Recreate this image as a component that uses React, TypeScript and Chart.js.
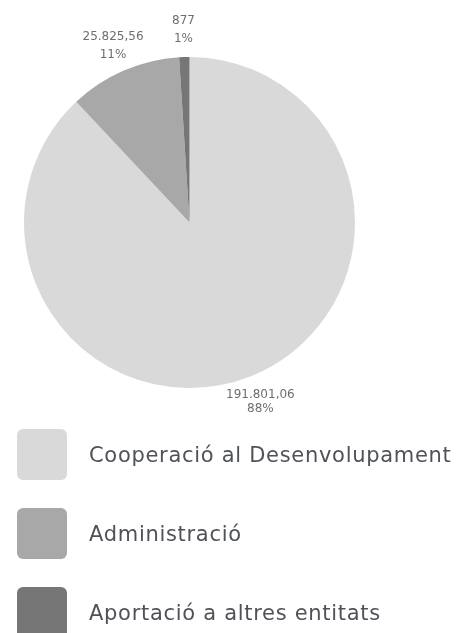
import React, { useEffect, useRef } from "react";
import { Chart, registerables } from "chart.js";

Chart.register(...registerables);

const categories = ["Cooperació al Desenvolupament", "Administració", "Aportació a altres entitats"];
const percentValues = [88, 11, 1];
const amountLabels = ["191.801,06", "25.825,56", "877"];
const percentLabels = ["88%", "11%", "1%"];
const sliceColors = ["#d9d9d9", "#a8a8a8", "#767676"];

const sliceLabelsPlugin = {
  id: "sliceLabels",
  afterDatasetsDraw(chart: any) {
    const ctx = chart.ctx;
    const meta = chart.getDatasetMeta(0);
    ctx.save();
    ctx.font = "12px 'DejaVu Sans'";
    ctx.fillStyle = "#6e6e6e";
    ctx.textAlign = "center";
    ctx.textBaseline = "middle";
    meta.data.forEach((arc: any, i: number) => {
      const { x, y, startAngle, endAngle, outerRadius } = arc.getProps(
        ["x", "y", "startAngle", "endAngle", "outerRadius"],
        true
      );
      const mid = (startAngle + endAngle) / 2;
      const r = outerRadius + 27;
      const cx = x + Math.cos(mid) * r;
      const cy = y + Math.sin(mid) * r;
      const half = Math.sin(mid) < 0 ? 9 : 7;
      ctx.fillText(amountLabels[i], cx, cy - half);
      ctx.fillText(percentLabels[i], cx, cy + half);
    });
    ctx.restore();
  },
};

const boxLegendPlugin = {
  id: "boxLegend",
  afterDraw(chart: any) {
    const ctx = chart.ctx;
    const labels = chart.data.labels as string[];
    const colors = chart.data.datasets[0].backgroundColor as string[];
    ctx.save();
    labels.forEach((label, i) => {
      const top = 429 + i * 79;
      ctx.fillStyle = colors[i];
      ctx.beginPath();
      (ctx as any).roundRect(17, top, 50, 51, 6);
      ctx.fill();
      ctx.fillStyle = "#4f5258";
      ctx.font = "21px 'DejaVu Sans'";
      (ctx as any).letterSpacing = "0.7px";
      ctx.textAlign = "left";
      ctx.textBaseline = "alphabetic";
      ctx.fillText(label, 89, top + 25.5 + 7);
    });
    ctx.restore();
  },
};

export default function App() {
  const canvasRef = useRef<HTMLCanvasElement | null>(null);

  useEffect(() => {
    if (!canvasRef.current) return;
    const chart = new Chart(canvasRef.current, {
      type: "pie",
      data: {
        labels: categories,
        datasets: [
          {
            data: percentValues,
            backgroundColor: sliceColors,
            borderWidth: 0,
            hoverOffset: 0,
          },
        ],
      },
      options: {
        animation: false,
        responsive: false,
        devicePixelRatio: 1,
        layout: { padding: { left: 24, right: 115, top: 57, bottom: 245 } },
        plugins: {
          legend: { display: false },
          tooltip: { enabled: false },
        },
      },
      plugins: [sliceLabelsPlugin, boxLegendPlugin],
    });
    return () => chart.destroy();
  }, []);

  return (
    <div style={{ position: "absolute", left: 0, top: 0, width: 470, height: 633, background: "#ffffff" }}>
      <canvas ref={canvasRef} width={470} height={633} style={{ display: "block" }} />
    </div>
  );
}
